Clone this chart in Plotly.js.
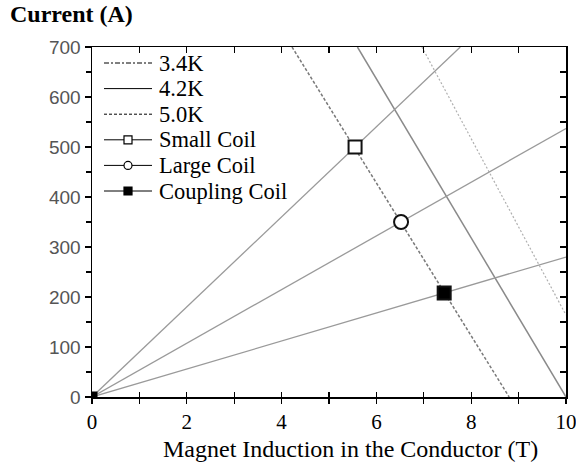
<!DOCTYPE html>
<html>
<head>
<meta charset="utf-8">
<script src="https://cdn.plot.ly/plotly-3.0.1.min.js"></script>
<style>html,body{margin:0;padding:0;background:#fff;}#chart{width:576px;height:463px;}</style>
</head>
<body>
<div id="chart"></div>
<script>
// Temperature limit lines (critical current vs induction)
const tempLabels = ['3.4K', '4.2K', '5.0K'];
const tempB = [[6.96, 10], [5.6, 10], [4.22, 8.8]];
const tempI = [[700, 164], [700, 0], [700, 0]];

// Coil load lines (through origin)
const coilLabels = ['Small Coil', 'Large Coil', 'Coupling Coil'];
const coilLineB = [[0, 7.77], [0, 10], [0, 10]];
const coilLineI = [[0, 700], [0, 537], [0, 280]];

// Operating points on the 5.0K line
const opB = [5.55, 6.52, 7.43];
const opI = [500, 350, 208];

const xTickVals = [0, 2, 4, 6, 8, 10];
const yTickVals = [0, 100, 200, 300, 400, 500, 600, 700];

const serif = 'Liberation Serif, Times New Roman, serif';
const sans = 'Liberation Sans, Arial, sans-serif';

const tempStyles = [
  {color: '#b0b0b0', width: 1.2, dash: '2px,2px'},
  {color: '#8a8a8a', width: 1.5, dash: 'solid'},
  {color: '#7a7a7a', width: 1.5, dash: '3px,2px'}
];
const tempLegendDash = ['5px,2px,2px,2px', 'solid', '3px,2px'];
const coilSizes = [13, 14, 13];

const traces = [];
for (let i = 0; i < 3; i++) {
  traces.push({x: tempB[i], y: tempI[i], mode: 'lines', line: tempStyles[i], showlegend: false, hoverinfo: 'skip'});
}
for (let i = 0; i < 3; i++) {
  traces.push({x: coilLineB[i], y: coilLineI[i], mode: 'lines', line: {color: '#9a9a9a', width: 1.3}, showlegend: false, hoverinfo: 'skip'});
}
// origin marker (coupling coil square, clipped by axes)
traces.push({x: [coilLineB[2][0]], y: [coilLineI[2][0]], mode: 'markers', marker: {symbol: 'square', size: 11, color: '#000'}, showlegend: false, cliponaxis: true});
for (let i = 0; i < 3; i++) {
  traces.push({x: [opB[i]], y: [opI[i]], mode: 'markers',
    marker: {symbol: i === 1 ? 'circle' : 'square', size: coilSizes[i],
      color: i === 2 ? '#000' : '#fff', line: {color: '#111', width: 2}},
    showlegend: false});
}
// overlay axes carriers
traces.push({x: [null], y: [null], xaxis: 'x2', yaxis: 'y', showlegend: false, hoverinfo: 'skip'});
traces.push({x: [null], y: [null], xaxis: 'x3', yaxis: 'y', showlegend: false, hoverinfo: 'skip'});
traces.push({x: [null], y: [null], xaxis: 'x', yaxis: 'y2', showlegend: false, hoverinfo: 'skip'});

// ---- manual legend (layout decoration, pixel geometry converted to paper) ----
const plotL = 92, plotR = 566, plotT = 47, plotB = 397;
const px = v => (v - plotL) / (plotR - plotL);
const py = v => (plotB - v) / (plotB - plotT);
const legTop = 63, legStep = 25.6, sampleL = 104, sampleR = 152, textL = 157;
const shapes = [];
const annotations = [];
const legendNames = tempLabels.concat(coilLabels);
legendNames.forEach((name, k) => {
  const yc = legTop + k * legStep;
  if (k < 3) {
    shapes.push({type: 'line', xref: 'paper', yref: 'paper', x0: px(sampleL), x1: px(sampleR), y0: py(yc), y1: py(yc),
      line: {color: '#000', width: 1, dash: tempLegendDash[k]}});
  } else {
    const c = (sampleL + sampleR) / 2, h = 4;
    shapes.push({type: 'line', xref: 'paper', yref: 'paper', x0: px(sampleL), x1: px(sampleR), y0: py(yc), y1: py(yc),
      line: {color: '#000', width: 1}});
    const j = k - 3;
    shapes.push({type: j === 1 ? 'circle' : 'rect', xref: 'paper', yref: 'paper',
      x0: px(c - h), x1: px(c + h), y0: py(yc + h), y1: py(yc - h),
      fillcolor: j === 2 ? '#000' : '#fff', line: {color: '#000', width: 1.2}, layer: 'above'});
  }
  annotations.push({text: name, xref: 'paper', yref: 'paper', x: px(textL), y: py(yc), xanchor: 'left', yanchor: 'middle',
    showarrow: false, font: {family: serif, size: 22.5, color: '#000'}});
});
annotations.push({text: 'Magnet Induction in the Conductor (T)', xref: 'paper', yref: 'paper', x: px(350), y: py(449),
  xanchor: 'center', yanchor: 'middle', showarrow: false, font: {family: serif, size: 24, color: '#000'}});

const layout = {
  width: 576, height: 463,
  margin: {l: plotL, r: 576 - plotR, t: plotT, b: 463 - plotB},
  paper_bgcolor: '#fff', plot_bgcolor: '#fff',
  showlegend: false,
  title: {text: '<b>Current (A)</b>', font: {family: serif, size: 24, color: '#000'},
    xref: 'container', yref: 'container', x: 10 / 576, xanchor: 'left', y: 1 - 5 / 463, yanchor: 'top'},
  shapes: shapes,
  annotations: annotations,
  xaxis: {range: [0, 10], tickvals: xTickVals, ticks: 'outside', ticklen: 5, tickwidth: 1.2, tickcolor: '#000',
    minor: {dtick: 1, ticks: 'outside', ticklen: 5, tickwidth: 1.2, tickcolor: '#000'},
    showline: true, linecolor: '#000', linewidth: 1.5, showgrid: false, zeroline: false,
    ticklabeloverflow: 'allow',
    tickfont: {family: serif, size: 21, color: '#000'}},
  xaxis2: {range: [0, 10], overlaying: 'x', side: 'bottom', anchor: 'y', tickvals: xTickVals, ticks: 'inside', ticklen: 5, tickwidth: 1.2, tickcolor: '#000',
    minor: {dtick: 1, ticks: 'inside', ticklen: 5, tickwidth: 1.2, tickcolor: '#000'},
    showticklabels: false, showgrid: false, zeroline: false, showline: false},
  xaxis3: {range: [0, 10], overlaying: 'x', side: 'top', anchor: 'y', tickvals: xTickVals, ticks: 'inside', ticklen: 6, tickwidth: 1.2, tickcolor: '#000',
    minor: {dtick: 1, ticks: 'inside', ticklen: 6, tickwidth: 1.2, tickcolor: '#000'},
    showticklabels: false, showgrid: false, zeroline: false, showline: true, linecolor: '#000', linewidth: 1.5},
  yaxis: {range: [0, 700], tickvals: yTickVals, ticks: 'outside', ticklen: 6, tickwidth: 1.2, tickcolor: '#000',
    minor: {dtick: 50, ticks: 'outside', ticklen: 5, tickwidth: 1.2, tickcolor: '#000'},
    showline: true, linecolor: '#000', linewidth: 1.5, showgrid: false, zeroline: false,
    tickfont: {family: sans, size: 19, color: '#555'}},
  yaxis2: {range: [0, 700], overlaying: 'y', side: 'right', anchor: 'x', tickvals: yTickVals, ticks: 'inside', ticklen: 6, tickwidth: 1.2, tickcolor: '#000',
    minor: {dtick: 50, ticks: 'inside', ticklen: 6, tickwidth: 1.2, tickcolor: '#000'},
    showticklabels: false, showgrid: false, zeroline: false, showline: true, linecolor: '#000', linewidth: 1.5}
};

Plotly.newPlot('chart', traces, layout, {displayModeBar: false, staticPlot: true});
</script>
</body>
</html>
